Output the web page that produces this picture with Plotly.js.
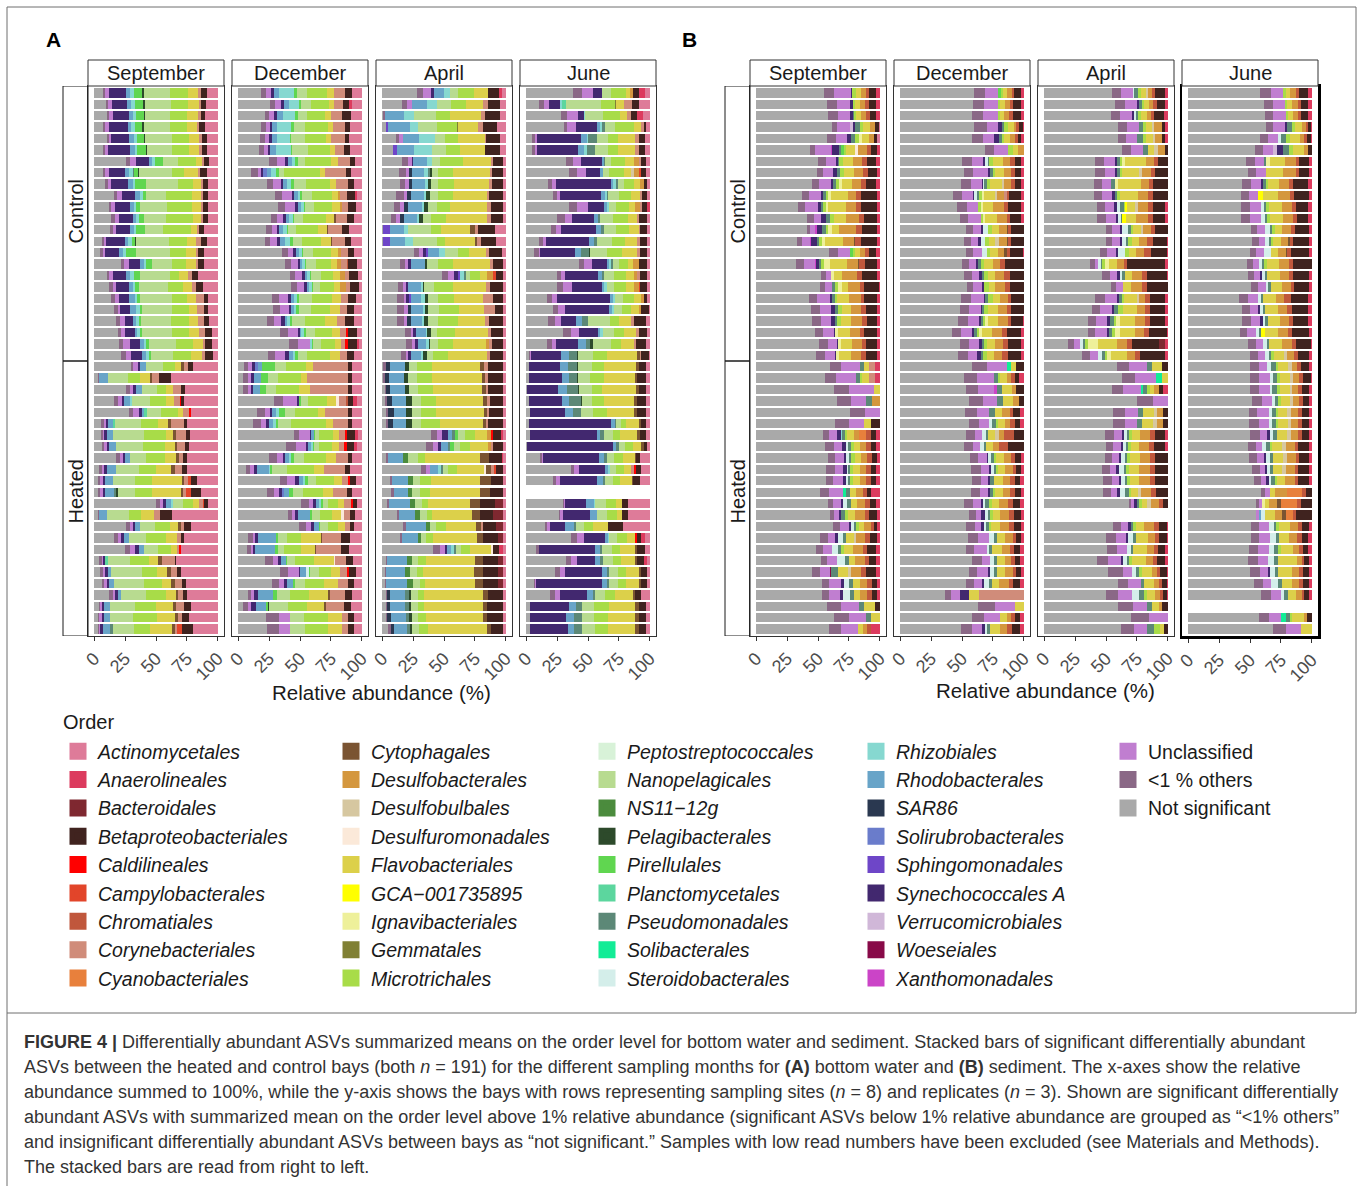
<!DOCTYPE html>
<html><head><meta charset="utf-8">
<script src="https://cdn.plot.ly/plotly-3.0.1.min.js"></script>
<style>html,body{margin:0;padding:0;background:#fff}#chart{width:1357px;height:1186px}</style>
</head><body><div id="chart"></div>
<script>
// ---------------- categories (legend order, column by column) ----------------
const ORDER_CODES = ["AC","AN","BA","BE","CL","CA","CH","CO","CN",
  "CY","DS","DB","DU","FL","GC","IG","GE","MI",
  "PP","NA","NSg","PE","PI","PL","PS","SB","ST",
  "RZ","RB","SA","SO","SP","SY","VE","WO","XA",
  "UN","OT","NS"];
const ORDER_NAMES = ["Actinomycetales","Anaerolineales","Bacteroidales","Betaproteobacteriales","Caldilineales","Campylobacterales","Chromatiales","Corynebacteriales","Cyanobacteriales",
  "Cytophagales","Desulfobacterales","Desulfobulbales","Desulfuromonadales","Flavobacteriales","GCA−001735895","Ignavibacteriales","Gemmatales","Microtrichales",
  "Peptostreptococcales","Nanopelagicales","NS11−12g","Pelagibacterales","Pirellulales","Planctomycetales","Pseudomonadales","Solibacterales","Steroidobacterales",
  "Rhizobiales","Rhodobacterales","SAR86","Solirubrobacterales","Sphingomonadales","Synechococcales A","Verrucomicrobiales","Woeseiales","Xanthomonadales",
  "Unclassified","&lt;1 % others","Not significant"];
const ORDER_COLORS = ["#de7b99","#dc3b5e","#7f2830","#40231f","#ff0000","#e2452a","#c0573c","#d08c7a","#e8803c",
  "#7a5432","#d4973e","#d6c7a0","#fbe9d9","#dcd04a","#ffff00","#eef09a","#808034","#a8dc48",
  "#d8f2d8","#b8db90","#4b8b3d","#2d4a2b","#60d650","#5cd69e","#5c8877","#12ec96","#d4eeea",
  "#86d8d0","#68a4c8","#2a3850","#6a7ccb","#6e46c8","#42286f","#d0b7d8","#880a48","#cb44c7",
  "#c07ed0","#8a6886","#a9a9a9"];
const ORDER_ITALIC = ORDER_CODES.map(c => !["UN","OT","NS"].includes(c));
const LEGEND_COLUMN = [1,1,1,1,1,1,1,1,1, 2,2,2,2,2,2,2,2,2, 3,3,3,3,3,3,3,3,3, 4,4,4,4,4,4,4,4,4, 5,5,5];

const MONTHS = ["September","December","April","June"];
const GROUPS = ["Control","Heated"];
const TICK_VALUES = [0,25,50,75,100];
const TICK_LABELS = ["0","25","50","75","100"];

// ---------------- per-facet rows: 24 control + 24 heated (null = excluded sample) ----------------
const A_SEP = [
{NS:7,OT:2,UN:3,SY:14,RB:3,RZ:3,PI:7,PE:1,NA:21,MI:15,FL:8,CO:2,BE:5,AC:9},
{NS:9,OT:2,UN:3,SY:12,RB:3,RZ:3,PI:7,PE:1,NA:21,MI:13,FL:9,CO:2,BE:4,AC:9},
{NS:10,OT:2,UN:3,SY:13,RB:3,RZ:3,PI:6,PE:1,NA:20,MI:14,FL:9,CO:2,BE:4,AC:10},
{NS:7,OT:2,UN:3,SY:15,RB:3,RZ:3,PI:6,PE:1,NA:21,MI:14,FL:8,CO:2,BE:5,AC:10},
{NS:10,OT:2,UN:2,SY:14,RB:4,RZ:3,PI:5,PE:1,NA:22,MI:14,FL:8,CO:2,BE:4,AC:9},
{NS:7,OT:2,UN:2,SY:18,RB:4,RZ:2,PI:7,PE:1,NA:20,MI:14,FL:8,CO:2,BE:4,AC:9},
{NS:26,OT:3,UN:5,SY:10,RB:3,RZ:2,PI:7,NA:12,MI:14,FL:5,CO:2,BE:4,AC:7},
{NS:7,OT:2,UN:3,SY:13,RB:3,RZ:3,PS:1,PI:3,PE:1,NA:26,MI:10,FL:11,CO:2,BE:5,AC:9},
{NS:9,OT:2,UN:3,SY:13,RB:4,RZ:2,PI:9,NA:26,MI:12,FL:6,CO:2,BE:4,AC:8},
{NS:16,OT:3,UN:4,SY:11,RB:4,RZ:2,PI:3,NA:16,MI:22,FL:7,CO:2,BE:4,AC:8},
{NS:12,OT:2,UN:3,SY:12,RB:3,RZ:2,PI:3,NA:22,MI:20,FL:7,CO:2,BE:4,AC:8},
{NS:14,OT:3,UN:3,SY:11,RB:3,RZ:2,PI:4,NA:18,MI:22,FL:6,CO:2,BE:4,AC:8},
{NS:13,OT:2,UN:3,SY:11,RB:3,RZ:2,PI:7,NA:15,MI:22,FL:5,CO:2,BE:4,AC:11},
{NS:6,OT:2,UN:2,SY:15,RB:3,RZ:3,PI:2,PE:1,NA:27,MI:15,FL:7,CO:4,BE:5,AC:9},
{NS:5,OT:2,UN:2,SY:11,RB:3,RZ:3,PI:8,NA:27,MI:13,FL:8,CO:2,BE:5,AC:11},
{NS:22,OT:2,UN:4,SY:9,RB:3,RZ:2,PI:5,NA:16,MI:11,FL:8,CO:2,BE:5,AC:11},
{NS:10,OT:2,UN:3,SY:11,RB:3,RZ:3,PI:5,NA:24,MI:8,FL:7,CO:3,BE:5,AC:16},
{NS:12,OT:3,UN:3,SY:10,RB:3,RZ:2,PI:3,NA:24,MI:12,FL:7,CO:3,BE:6,AC:12},
{NS:14,OT:3,UN:3,SY:8,RB:5,RZ:2,PI:2,NA:26,MI:12,FL:7,CO:7,BE:3,AC:8},
{NS:16,OT:3,UN:2,SY:8,RB:5,RZ:3,PI:2,NA:24,MI:14,FL:6,CO:6,BE:3,AC:8},
{NS:18,OT:3,UN:4,SY:6,RB:3,RZ:2,PI:2,NA:24,MI:15,FL:7,CO:5,BE:4,AC:7},
{NS:19,OT:3,UN:3,SY:8,RB:2,RZ:2,PI:2,NA:24,MI:14,FL:8,CO:5,BE:5,AC:5},
{NS:20,OT:3,UN:6,SY:8,RB:3,RZ:2,PI:2,NA:22,MI:14,FL:8,CO:2,BE:5,AC:5},
{NS:22,OT:4,UN:4,SY:9,RB:3,RZ:2,PI:2,NA:18,MI:14,FL:9,CO:3,BE:6,AC:4},
{NS:28,OT:2,UN:4,SY:1,RB:5,NA:13,MI:9,FL:5,CY:2,CO:3,BE:4,AC:19},
{NS:3,OT:1,RB:7,NA:16,MI:9,FL:8,CY:2,CO:5,BE:10,AC:37},
{NS:26,OT:3,UN:3,SY:2,RB:5,NA:12,MI:8,FL:5,CO:7,BE:3,AC:27},
{NS:16,OT:3,UN:3,SY:2,RB:4,RZ:2,NA:14,MI:13,FL:6,CO:5,BE:2,CL:1,AC:27},
{NS:27,OT:3,UN:5,SY:2,RB:2,PL:2,NA:11,MI:13,FL:4,CO:5,CL:1,AC:21},
{NS:6,OT:2,UN:2,SY:2,RB:4,PL:2,NA:22,MI:14,FL:9,CY:2,CO:11,BE:3,AC:26},
{NS:5,OT:2,UN:1,SY:2,RB:5,NA:24,MI:17,FL:6,CY:2,CO:8,BE:3,AC:22},
{NS:6,OT:2,UN:2,SY:2,RB:5,NA:22,MI:17,FL:8,CY:2,CO:6,BE:3,AC:23},
{NS:18,OT:3,UN:2,SY:2,RB:4,NA:13,MI:15,FL:9,CY:3,CO:3,BE:3,AC:25},
{NS:4,OT:2,UN:2,SY:2,RB:8,NA:18,MI:14,FL:12,CY:3,CO:6,BE:4,AC:25},
{NS:3,OT:2,UN:2,SY:2,RB:6,NA:18,MI:14,FL:24,CY:2,CO:3,CA:2,BE:5,AC:17},
{NS:3,OT:2,UN:2,SY:2,RB:7,PS:2,PE:1,NA:14,MI:14,FL:23,CY:2,CO:2,CA:4,BE:8,AC:14},
{NS:50,OT:3,UN:3,SY:2,RB:4,RZ:2,NA:8,MI:8,FL:5,CO:3,CA:1,BE:3,AC:8},
{NS:3,OT:1,RB:6,NA:18,MI:10,FL:10,CO:5,BE:10,AC:37},
{NS:26,OT:3,UN:2,SY:2,RB:4,NA:12,MI:12,FL:7,CY:2,CO:3,BE:5,AC:22},
{NS:16,OT:3,UN:3,SY:2,RB:4,NA:14,MI:16,FL:9,CO:3,BE:3,AC:27},
{NS:25,OT:4,UN:4,SY:3,RB:4,NA:12,MI:10,FL:5,CO:2,CL:1,AC:30},
{NS:4,OT:2,UN:1,SY:2,PL:2,NA:18,MI:15,FL:8,CY:3,CO:10,BE:1,AC:34},
{NS:5,OT:2,UN:2,SY:2,RB:3,NA:25,MI:12,FL:8,CY:3,CO:5,BE:3,AC:30},
{NS:6,OT:2,UN:2,SY:2,RB:4,NA:24,MI:15,FL:7,CY:3,CO:6,BE:3,AC:26},
{NS:12,OT:3,UN:2,SY:2,RB:3,NA:20,MI:16,FL:8,CY:2,CO:4,BE:3,AC:25},
{NS:4,OT:1,UN:1,SY:2,RB:5,NA:20,MI:17,FL:14,CY:2,CO:7,BE:5,AC:22},
{NS:3,OT:1,UN:2,SY:2,RB:5,NA:18,MI:20,FL:14,CY:3,CO:3,BE:6,AC:23},
{NS:3,OT:1,UN:1,SY:2,RB:6,PS:2,NA:17,MI:13,FL:18,CY:2,CO:2,CA:4,BE:9,AC:20}
];
const A_DEC = [
{NS:18,OT:4,UN:4,SY:2,RB:4,RZ:12,PI:2,NA:8,MI:16,FL:5,CO:9,BE:5,AC:8},
{NS:25,OT:4,UN:5,SY:2,RB:4,RZ:8,PI:2,NA:8,MI:14,FL:4,CO:7,BE:5,AN:2,AC:8},
{NS:22,OT:3,UN:4,SY:2,RB:5,RZ:10,PI:2,NA:8,MI:14,FL:5,CO:9,BE:7,AC:9},
{NS:18,OT:4,UN:3,SY:2,RB:4,RZ:11,PI:2,NA:9,MI:18,FL:4,CO:10,BE:4,AC:9},
{NS:18,OT:4,UN:3,SY:2,RB:4,RZ:11,PI:1,NA:11,MI:17,FL:4,CO:11,BE:4,AC:10},
{NS:16,OT:4,UN:3,SY:2,RB:4,RZ:12,PI:1,NA:12,MI:17,FL:4,CO:7,BE:5,AC:9},
{NS:24,OT:6,UN:6,SY:2,RB:3,RZ:3,PI:2,NA:5,MI:20,FL:6,CO:9,BE:4,AC:5},
{NS:10,OT:5,UN:2,SY:2,SO:3,RB:3,RZ:4,PI:2,NA:4,MI:27,FL:4,CO:16,BE:4,AC:8},
{NS:22,OT:5,UN:6,SY:2,RB:3,RZ:3,PI:2,NA:10,MI:18,FL:5,CO:9,BE:5,AC:6},
{NS:30,OT:6,UN:8,SY:2,RB:3,RZ:2,PI:2,NA:8,MI:16,FL:5,DS:2,CO:6,BE:6,AN:2,AC:4},
{NS:32,OT:6,UN:8,SY:2,RB:3,RZ:2,PI:1,NA:7,MI:15,FL:6,DS:2,CO:5,BE:6,AC:5},
{NS:26,OT:5,UN:5,SY:2,RB:3,RZ:3,PI:1,NA:7,MI:18,FL:7,CY:1,CO:9,BE:6,AC:6},
{NS:22,OT:5,UN:4,SY:2,RB:3,RZ:3,PI:1,NA:6,MI:18,FL:7,CY:1,CO:11,BE:6,AC:10},
{NS:22,OT:4,UN:5,SY:3,RB:4,RZ:4,PI:2,NA:8,MI:15,FL:8,CY:1,CO:10,BE:5,AC:9},
{NS:35,OT:5,UN:4,SY:2,RB:3,RZ:2,PI:1,NA:8,MI:14,FL:6,DS:2,CO:6,BE:5,AC:6},
{NS:38,OT:5,UN:5,SY:2,RB:2,RZ:2,PI:1,NA:8,MI:12,FL:5,DS:3,CO:5,CH:1,BE:7,AC:4},
{NS:42,OT:4,UN:6,SY:2,RB:2,RZ:2,PI:1,NA:8,MI:10,FL:5,DS:4,CO:4,BE:7,AC:3},
{NS:43,OT:5,UN:6,SY:2,RB:2,RZ:2,PI:1,NA:6,MI:11,FL:5,DS:5,CO:3,BE:8,AC:2},
{NS:27,OT:6,UN:7,SY:2,RB:3,RZ:2,PI:2,NA:10,MI:16,FL:7,CO:6,BE:6,AC:5},
{NS:28,OT:6,UN:7,SY:2,RB:2,RZ:2,PI:2,NA:10,MI:15,FL:8,CO:6,BE:6,AC:6},
{NS:23,OT:5,UN:6,SY:3,RB:2,RZ:2,PI:2,NA:10,MI:16,FL:9,CO:7,BE:7,AC:6},
{NS:34,OT:6,UN:8,SY:2,RB:1,RZ:2,PI:2,NA:7,MI:14,FL:6,CO:5,CL:2,BE:7,AC:4},
{NS:42,OT:7,UN:10,RZ:2,PI:1,NA:6,MI:12,FL:5,CO:3,CL:3,BE:7,AN:2,AC:2},
{NS:24,OT:6,UN:8,SY:3,RB:3,RZ:2,PI:2,NA:8,MI:18,FL:8,CO:6,BE:6,AC:6},
{NS:5,OT:3,UN:3,SY:2,SO:3,RB:3,PI:10,NA:9,MI:16,FL:5,CO:28,BE:3,AC:8},
{NS:4,OT:4,UN:2,SY:3,RB:5,PI:6,NA:8,MI:18,FL:5,CO:33,BE:3,AC:8},
{NS:4,OT:4,UN:2,SY:2,RB:5,PI:5,NA:8,MI:18,FL:8,CO:30,BE:3,AC:8},
{NS:28,OT:7,UN:11,SY:1,PI:2,NA:5,MI:15,FL:7,DU:2,CO:6,CH:1,BE:4,AN:3,AC:4},
{NS:15,OT:6,UN:4,SY:2,RB:3,RZ:2,PI:5,NA:8,MI:18,FL:6,CO:18,BE:3,AC:8},
{NS:12,OT:6,UN:4,SY:3,RB:3,RZ:2,PI:2,NA:10,MI:28,FL:6,CO:12,BE:3,AC:8},
{NS:42,OT:4,UN:8,SY:1,RB:2,PI:1,NA:3,MI:10,FL:5,CO:4,CL:2,BE:6,AN:2,AC:3},
{NS:38,OT:8,UN:8,SY:1,RB:3,RZ:1,PI:1,NA:4,MI:10,FL:6,CO:4,CL:2,BE:6,AN:2,AC:4},
{NS:25,OT:6,UN:5,SY:2,RB:3,RZ:2,PI:2,NA:8,MI:18,FL:8,CO:10,BE:3,AC:8},
{NS:6,OT:4,UN:3,SY:2,RB:10,RZ:1,PI:2,NA:12,MI:22,FL:8,CO:17,BE:4,AC:10},
{NS:33,OT:6,UN:6,SY:3,RB:3,RZ:2,PI:2,NA:7,MI:14,FL:6,CO:5,CL:2,BE:4,AC:5},
{NS:23,OT:6,UN:4,SY:2,SO:2,RB:4,PI:3,NA:8,MI:16,FL:8,CO:11,BE:4,AC:8},
{NS:50,OT:7,UN:3,SY:2,RB:3,RZ:1,PI:2,NA:4,MI:8,FL:5,CO:5,CL:2,BE:3,AC:4},
{NS:38,OT:3,UN:3,SY:2,RB:9,PI:2,NA:6,MI:9,FL:7,DU:2,CO:5,BE:4,AC:5},
{NS:48,OT:6,UN:4,SY:2,RB:4,PI:1,NA:6,MI:8,FL:6,CO:4,BE:3,AC:6},
{NS:8,OT:4,UN:2,SY:2,RB:15,PI:2,NA:7,MI:12,FL:16,CY:1,CO:16,BE:7,AC:10},
{NS:7,OT:3,UN:2,SY:2,RB:16,PI:2,NA:5,MI:14,FL:11,CY:1,CO:20,BE:7,AC:10},
{NS:20,OT:6,UN:4,SY:2,RB:4,PI:1,NA:6,MI:14,FL:15,DU:1,CO:8,BE:5,AC:7},
{NS:34,OT:6,UN:9,SY:1,ST:2,RB:5,PI:1,NA:7,MI:10,FL:7,CO:6,CL:2,BE:5,AC:5},
{NS:25,OT:5,UN:4,SY:2,RB:5,PI:1,NA:8,MI:14,FL:10,CO:8,BE:4,AC:6},
{NS:8,OT:2,UN:2,SY:3,RB:12,PI:3,NA:10,MI:15,FL:15,CY:1,CO:12,BE:5,AC:8},
{NS:4,OT:4,UN:2,SY:4,RB:8,PE:1,PI:2,NA:15,MI:15,FL:14,CY:1,CO:15,BE:5,AC:9},
{NS:23,OT:10,UN:9,NA:12,MI:19,FL:12,CO:5,BE:5,AC:6},
{NS:23,OT:10,UN:9,NA:12,MI:19,FL:11,CO:5,BE:5,AC:6}
];
const A_APR = [
{NS:27,OT:5,UN:6,SY:2,RB:8,RZ:5,NA:6,MI:12,FL:11,BE:9,AN:2,AC:3},
{NS:16,OT:4,UN:4,RB:12,RZ:8,NA:11,MI:12,FL:14,CO:4,BE:9,AC:5},
{NS:1,OT:1,RB:16,RZ:8,NA:18,MI:11,FL:26,CO:3,BE:12,AC:5},
{NS:3,SP:2,RB:17,RZ:7,NA:15,MI:16,GE:1,FL:16,CO:4,BE:11,AC:7},
{NS:11,OT:3,UN:3,RB:13,RZ:13,NA:8,MI:10,FL:22,CO:1,BE:11,AC:5},
{NS:9,SP:3,RB:14,RZ:14,NA:12,MI:11,FL:20,BE:12,AC:5},
{NS:16,OT:5,UN:3,SY:1,RB:11,RZ:4,NA:7,MI:18,FL:23,CO:2,BE:8,AC:2},
{NS:14,OT:5,UN:3,SA:2,RB:10,RZ:3,PS:2,PE:1,NA:5,MI:12,FL:30,CO:2,BE:9,AC:2},
{NS:14,OT:4,UN:3,SA:3,RB:10,RZ:2,PE:3,NA:5,MI:13,FL:28,CO:2,BE:9,AC:2},
{NS:11,OT:6,UN:3,SA:3,RB:10,RZ:2,PE:3,NA:6,MI:12,FL:27,CO:2,BE:11,AC:2},
{NS:9,OT:5,UN:3,SA:3,RB:11,RZ:2,PE:3,NA:7,MI:10,FL:29,CO:3,BE:10,AC:2},
{NS:7,OT:4,UN:3,SA:3,RB:10,RZ:2,PE:3,NA:6,MI:12,FL:32,CO:3,BE:10,AC:2},
{NS:1,SP:5,RB:12,RZ:3,NA:19,MI:8,FL:24,CY:4,CO:2,BE:14,AC:9},
{NS:1,SP:5,RB:12,RZ:7,NA:19,MI:6,FL:24,CY:2,CO:3,BE:12,AC:8},
{NS:24,OT:4,UN:3,SP:2,SY:2,RB:8,RZ:5,NA:10,MI:8,FL:13,CO:2,BE:10,AC:3},
{NS:14,OT:4,UN:2,SY:2,RB:11,PE:2,NA:8,MI:12,FL:29,CO:2,BE:8,AC:2},
{NS:48,OT:5,UN:5,SY:3,SP:2,RZ:3,PS:2,NA:3,MI:8,FL:6,DS:5,CA:2,BE:6,AC:2},
{NS:13,OT:4,UN:2,SY:2,RB:10,RZ:2,PE:1,NA:8,MI:15,FL:27,CO:3,BE:11,AC:2},
{NS:12,OT:5,UN:2,SY:2,SP:2,RB:8,RZ:3,PE:2,NA:8,MI:13,FL:23,CO:8,BE:8,AC:2},
{NS:12,OT:6,UN:3,SA:2,RB:10,RZ:2,PE:2,NA:9,MI:16,FL:20,CO:9,BE:7,AC:2},
{NS:12,OT:6,UN:2,SA:3,RB:9,RZ:2,PE:3,NA:8,MI:16,FL:22,CO:3,BE:12,AC:2},
{NS:18,OT:5,UN:2,SY:2,RB:8,RZ:1,PE:3,NA:5,MI:14,FL:27,CO:2,BE:10,AC:2},
{NS:19,OT:5,UN:2,SY:2,RB:7,RZ:2,PE:1,NA:6,MI:12,FL:26,DS:3,CO:2,BE:9,AC:2},
{NS:15,OT:4,UN:2,SY:2,RB:8,RZ:2,PE:3,NA:5,MI:12,FL:31,CO:2,BE:11,AC:2},
{NS:1,OT:2,SA:3,RB:12,PE:3,NA:6,MI:12,FL:38,CY:3,CO:3,BE:12,AC:2},
{NS:1,OT:1,SA:3,RB:12,PE:3,NA:7,MI:12,FL:39,CY:3,CO:2,BE:12,AC:2},
{NS:2,OT:1,SA:3,RB:12,PE:3,NA:7,MI:12,FL:39,CY:3,CO:2,BE:12,AC:2},
{NS:2,OT:2,SA:4,RB:11,PE:5,NA:7,MI:12,FL:38,CY:3,CO:2,BE:11,AC:2},
{NS:3,OT:2,SA:4,RB:10,PE:5,NA:7,MI:12,FL:38,CY:2,CO:2,BE:11,AC:2},
{NS:3,OT:2,SA:4,RB:10,PE:5,NA:7,MI:15,FL:35,CY:2,CO:2,BE:12,AC:2},
{NS:39,OT:5,UN:4,SY:5,RB:3,PS:2,PI:3,NA:5,MI:8,FL:10,DS:3,CL:2,BE:6,AN:2,AC:2},
{NS:35,OT:5,UN:4,SY:3,RB:5,PS:2,PI:3,NA:5,MI:8,FL:14,DS:2,CO:2,BE:8,AC:2},
{NS:3,OT:2,RB:12,NSg:4,NA:8,MI:6,FL:44,CY:7,BE:11,AN:1,AC:2},
{NS:32,OT:4,UN:3,RB:7,RZ:2,PS:2,NA:4,MI:7,FL:22,DU:2,CY:4,CO:2,CA:2,BE:6,AC:2},
{NS:6,OT:2,RB:12,NSg:4,NA:6,MI:8,FL:39,CY:8,BE:10,AC:2},
{NS:7,OT:2,RB:11,NSg:3,NA:6,MI:8,FL:38,CY:8,BE:10,AC:2},
{NS:4,OT:1,RB:16,NSg:4,NA:5,MI:5,FL:32,CY:7,BE:12,BA:6,AC:2},
{NS:11,OT:2,RB:12,NSg:4,NA:5,MI:4,FL:30,CY:6,BE:10,BA:8,AC:2},
{NS:17,OT:2,RB:16,NSg:3,NA:5,MI:8,FL:24,CY:4,CO:2,BE:10,BA:6,AC:2},
{NS:14,OT:2,RB:12,NSg:3,NA:4,MI:5,FL:35,CY:5,BE:12,BA:4,AC:2},
{NS:40,OT:5,UN:4,SY:2,RB:3,RZ:2,PS:2,NA:4,MI:7,FL:16,DU:2,BE:5,AN:3,AC:2},
{NS:3,OT:1,RB:15,NSg:4,NA:5,MI:6,FL:38,CY:6,BE:12,BA:4,AC:2},
{NS:2,OT:1,RB:15,NSg:4,NA:5,MI:5,FL:40,CY:7,BE:12,BA:4,AC:2},
{NS:2,OT:1,RB:16,NSg:5,NA:5,MI:4,FL:39,CY:6,BE:12,BA:4,AC:2},
{NS:3,OT:1,SA:2,RB:12,PS:3,PE:2,NA:5,MI:5,FL:47,CY:4,BE:12,AC:2},
{NS:3,OT:1,SA:2,RB:12,PS:3,PE:2,NA:5,MI:5,FL:47,CY:3,BE:13,AC:2},
{NS:3,OT:1,SA:3,RB:12,PS:2,PE:2,NA:5,MI:6,FL:45,CY:3,BE:13,AC:2},
{NS:5,OT:2,SA:2,RB:11,PS:2,PE:2,NA:5,MI:7,FL:47,CY:3,BE:10,AC:2}
];
const A_JUN = [
{NS:38,OT:7,UN:9,SY:7,NA:8,MI:12,FL:3,DS:2,BE:5,AN:5,AC:4},
{NS:10,OT:4,UN:4,SY:9,RZ:2,PL:3,NA:28,MI:11,GE:1,FL:6,CO:7,BE:5,AC:9},
{NS:27,OT:5,UN:8,SY:5,RZ:1,NA:14,MI:13,FL:5,CO:3,BE:5,AN:5,AC:5},
{NS:30,OT:3,UN:7,SY:17,RB:2,RZ:2,PS:2,NA:8,MI:15,FL:6,CO:2,BE:2,AC:3},
{NS:5,OT:2,UN:2,SY:35,RB:5,RZ:1,PS:7,NA:9,MI:8,FL:14,CO:3,BE:5,AC:4},
{NS:5,OT:2,UN:2,SY:33,RB:5,RZ:2,PS:7,NA:10,MI:8,FL:14,CO:3,BE:5,AC:4},
{NS:32,OT:6,UN:6,SY:17,RB:2,PS:1,NA:5,MI:11,FL:7,DS:4,CO:2,BE:4,AC:3},
{NS:35,OT:6,UN:7,SY:12,RB:2,NA:5,MI:12,FL:6,DB:2,DS:4,CA:2,BE:4,AC:3},
{NS:18,OT:3,UN:3,SY:45,RB:2,RZ:2,PS:2,NA:5,MI:8,FL:5,DS:3,BE:3,AC:2},
{NS:22,OT:3,UN:3,SY:33,RB:3,RZ:2,PS:1,NA:9,MI:10,FL:7,CO:2,BE:4,AC:2},
{NS:35,OT:6,UN:9,SY:13,RB:2,RZ:2,NA:6,MI:10,FL:5,DS:4,CO:2,BE:4,AN:2},
{NS:25,OT:6,UN:6,SY:18,RB:3,PS:2,NA:10,MI:12,FL:8,CO:1,BE:7,AC:2},
{NS:20,OT:4,UN:4,SY:28,RB:4,PS:2,NA:10,MI:10,FL:8,CO:1,BE:6,AC:2},
{NS:10,OT:3,UN:3,SY:34,RB:4,PS:2,NA:12,MI:10,FL:10,CO:2,BE:6,AC:2},
{NS:6,OT:4,UN:1,SY:28,RB:5,PS:6,PE:1,NA:14,MI:12,FL:12,CO:2,BE:6,AC:2},
{NS:43,OT:4,UN:6,SY:12,RB:2,RZ:2,PS:1,NA:5,MI:7,FL:4,DS:5,BE:7,AC:2},
{NS:25,OT:3,UN:3,SY:27,RB:3,PS:2,NA:8,MI:10,FL:6,DS:3,CO:2,BE:6,AC:2},
{NS:25,OT:5,UN:7,SY:24,RB:2,RZ:2,NA:6,MI:10,FL:6,DS:4,CA:1,BE:6,AC:2},
{NS:17,OT:4,UN:4,SY:43,RB:2,RZ:2,NA:6,MI:9,FL:6,DS:2,BE:3,AC:2},
{NS:22,OT:4,UN:6,SY:36,RB:2,RZ:2,NA:6,MI:8,FL:6,DS:2,BE:6,AC:1},
{NS:18,OT:5,UN:5,SY:12,RB:5,PS:5,NA:18,MI:7,FL:10,CO:2,BE:10,AC:3},
{NS:30,OT:6,UN:7,SY:15,RB:2,RZ:2,NA:9,MI:8,FL:10,CO:2,BE:7,AC:2},
{NS:17,OT:4,UN:3,SY:18,RB:6,PS:4,PE:2,NA:15,MI:8,FL:10,CO:2,BE:8,AC:3},
{NS:2,OT:1,UN:1,SY:24,RB:7,PS:6,PE:1,NA:12,MI:11,FL:25,CY:2,CO:1,BE:6,AC:1},
{NS:2,SY:25,RB:7,PS:7,PE:1,NA:11,MI:10,FL:26,CY:2,BE:6,AC:3},
{NS:2,SY:27,RB:6,PS:6,PE:1,NA:10,MI:11,FL:25,CY:2,BE:7,AC:3},
{NS:1,SY:25,RB:7,PS:9,PE:1,NA:10,MI:8,FL:28,CY:2,BE:6,AC:3},
{NS:2,SY:27,RB:6,PS:9,PE:1,NA:8,MI:10,FL:24,CY:3,BE:7,AC:3},
{NS:3,SY:28,RB:7,PS:6,NA:10,MI:11,FL:22,CY:3,BE:7,AC:3},
{NS:2,SY:67,RB:3,PS:1,NA:4,MI:4,FL:10,CY:2,BE:4,AC:3},
{NS:3,SY:54,RB:3,PS:3,NA:7,MI:6,FL:14,CY:2,BE:5,AC:3},
{NS:1,SY:69,RB:3,PS:2,NA:5,MI:6,FL:7,CY:2,BE:3,AC:2},
{NS:11,OT:2,UN:1,SY:45,RB:4,PS:2,NA:6,MI:7,FL:10,CY:1,BE:3,AC:8},
{NS:36,OT:3,UN:4,SY:21,RB:2,RZ:2,NA:5,MI:6,FL:6,CO:2,CL:2,BE:4,AC:7},
{NS:22,OT:3,UN:3,SY:31,RB:5,PS:2,NA:6,MI:6,FL:10,CY:1,BE:6,AC:8},
null,
{NS:30,OT:1,UN:1,SY:17,RB:6,RZ:1,NA:9,MI:8,FL:5,BE:5,AC:18},
{NS:27,OT:1,UN:2,SY:22,RB:6,NA:8,MI:8,FL:4,BE:5,AC:18},
{NS:15,OT:2,UN:2,SY:12,RB:8,PS:1,NA:7,MI:7,FL:12,BE:12,AC:22},
{NS:35,OT:5,UN:5,SY:17,RB:2,RZ:1,NA:6,MI:8,FL:6,CL:2,BE:3,AN:3,AC:4},
{NS:8,OT:2,SY:45,RB:4,PS:2,NA:8,MI:6,FL:12,CY:2,BE:6,AC:4},
{NS:32,OT:4,UN:5,SY:15,RB:4,PS:2,NA:8,MI:7,FL:11,CY:2,BE:5,AN:3,AC:2},
{NS:23,OT:4,UN:4,SY:30,RB:4,PS:2,NA:7,MI:7,FL:10,CY:2,BE:5,AC:2},
{NS:6,OT:1,UN:1,SY:53,RB:4,PS:2,NA:7,MI:7,FL:10,CY:2,BE:5,AC:2},
{NS:19,OT:4,UN:4,SY:22,RB:5,PS:2,NA:8,MI:8,FL:14,CY:2,BE:5,AC:7},
{NS:3,SY:32,RB:5,PS:5,NA:10,MI:12,FL:21,CY:3,BE:6,AC:3},
{NS:3,SY:29,RB:7,PS:6,NA:10,MI:11,FL:22,CY:3,BE:6,AC:3},
{NS:3,SY:31,RB:5,PS:6,NA:11,MI:10,FL:22,CY:3,BE:6,AC:3}
];
const B_SEP = [
{NS:54,OT:8,UN:14,SY:1,MI:3,FL:4,DS:4,CH:2,BE:6,AN:3},
{NS:57,OT:8,UN:11,SY:2,MI:2,FL:4,DS:4,CH:3,BE:6,AN:3},
{NS:58,OT:8,UN:10,SY:2,PS:1,MI:2,FL:4,DS:4,CH:3,BE:5,AN:3},
{NS:61,OT:4,UN:11,VE:2,SY:2,PS:4,MI:2,FL:6,DS:4,BE:3,AC:1},
{NS:57,OT:7,UN:9,SY:3,PS:3,MI:3,IG:3,FL:5,DS:4,BE:3,AC:2},
{NS:42,OT:4,UN:12,XA:1,SY:5,PS:2,PI:2,MI:2,FL:7,DU:2,DS:7,CH:3,BE:5,AN:2},
{NS:49,OT:6,UN:8,SY:2,PS:1,MI:3,FL:8,DS:7,CH:4,BE:7,AN:3},
{NS:47,OT:5,UN:8,SY:3,PS:2,MI:3,FL:8,DS:7,CH:4,BE:7,AN:2},
{NS:44,OT:6,UN:9,SY:2,PS:2,MI:3,IG:2,FL:8,DS:7,CH:4,BE:8,AN:3},
{NS:36,OT:6,UN:9,SY:2,PS:2,MI:2,IG:2,FL:14,DS:6,CH:4,BE:13,AN:2},
{NS:33,OT:6,UN:10,SY:2,PS:2,MI:2,IG:2,FL:14,DS:8,CH:4,BE:13,AN:2},
{NS:41,OT:5,UN:6,SY:4,PS:3,MI:3,FL:10,DS:10,CH:4,BE:11,AN:2},
{NS:40,OT:3,UN:4,XA:1,SY:4,PS:3,MI:2,IG:3,FL:6,DS:13,CH:5,BE:12,AN:2},
{NS:30,OT:3,UN:6,XA:1,SY:4,PS:2,MI:2,IG:2,FL:13,DS:8,CY:1,CH:4,BE:12,AN:2},
{NS:59,OT:7,UN:10,PI:2,MI:2,FL:4,DS:4,CH:3,BE:6,AN:3},
{NS:29,OT:6,UN:8,XA:1,SY:2,PS:2,MI:2,IG:4,FL:13,DS:8,CY:1,CH:4,BE:9,AN:2},
{NS:51,OT:4,UN:4,IG:3,FL:6,DS:12,CH:4,BE:12,AN:2},
{NS:52,OT:4,UN:6,PS:2,MI:3,IG:3,FL:5,DS:10,CH:3,BE:12,AN:1},
{NS:41,OT:6,UN:10,SY:2,PS:2,MI:2,FL:9,DS:9,CH:3,BE:10,AN:2},
{NS:43,OT:7,UN:9,SY:3,PS:2,MI:3,FL:7,DS:8,CH:4,BE:9,AN:2},
{NS:43,OT:7,UN:8,SY:3,PS:2,MI:3,FL:8,DS:8,CH:4,BE:8,AN:2},
{NS:45,OT:6,UN:8,SY:1,IG:2,FL:9,DS:8,CH:3,BE:10,AN:2},
{NS:48,OT:7,UN:7,SY:1,IG:2,FL:9,DS:7,CH:3,BE:9,AN:2},
{NS:48,OT:7,UN:8,SY:1,IG:2,FL:10,DS:8,CH:4,BE:9,AN:2},
{NS:59,OT:9,UN:15,PS:3,FL:4,CO:5,AN:4},
{NS:55,OT:9,UN:16,PS:3,MI:2,FL:5,CO:5,AN:4},
{NS:63,OT:12,UN:20,FL:5},
{NS:65,OT:12,UN:12,PS:5,DS:6},
{NS:76,OT:12,UN:12},
{NS:64,OT:11,UN:12,FL:6,BE:7},
{NS:51,OT:5,UN:6,SY:3,RZ:1,PS:2,MI:2,FL:5,DS:4,CN:5,CH:4,BE:4,AN:3},
{NS:57,OT:7,UN:7,SY:3,ST:2,PS:2,MI:3,FL:5,DS:5,CH:4,BE:4,AN:3},
{NS:58,OT:6,UN:7,SY:2,ST:2,PS:2,MI:3,FL:5,DS:5,CH:4,BE:4,AN:2},
{NS:57,OT:7,UN:7,SY:3,ST:1,PS:2,MI:2,FL:6,DS:5,CH:4,BE:4,AN:3},
{NS:57,OT:6,UN:8,SY:2,ST:2,PS:2,MI:2,FL:6,DS:5,CH:4,BE:4,AN:3},
{NS:52,OT:7,UN:11,SB:3,PS:3,FL:5,DS:5,CH:4,BE:3,AN:7},
{NS:57,OT:4,UN:6,SY:2,ST:3,PS:3,FL:5,DS:6,CH:4,BE:5,AN:3},
{NS:60,OT:3,UN:4,SY:2,PS:3,MI:2,FL:6,DS:8,CH:3,BE:7,AN:2},
{NS:62,OT:6,UN:7,SY:2,ST:2,PS:2,MI:2,FL:4,DS:6,CH:2,BE:3,AN:2},
{NS:52,OT:6,UN:6,SY:2,ST:4,PS:3,FL:6,DB:2,DS:7,CH:4,BE:6,AN:2},
{NS:48,OT:6,UN:7,ST:5,PS:3,MI:2,FL:7,DS:8,CH:4,BE:7,AN:3},
{NS:52,OT:5,UN:8,ST:6,PS:3,FL:5,DS:8,CH:3,BE:6,AN:3},
{NS:44,OT:6,UN:8,WO:1,PS:5,FL:8,DB:2,DS:8,CH:4,BE:8,AN:3},
{NS:53,OT:6,UN:10,SY:2,ST:4,PS:3,FL:6,DS:6,CH:4,BE:4,AN:2},
{NS:53,OT:6,UN:9,SY:2,ST:6,PS:3,FL:5,DS:6,CH:4,BE:4,AN:2},
{NS:57,OT:11,UN:14,PS:4,FL:9,BE:4},
{NS:62,OT:12,UN:14,PS:4,FL:7},
{NS:58,OT:9,UN:14,FL:4,DS:3,CH:3,AN:7}
];
const B_DEC = [
{NS:60,OT:9,UN:11,PI:2,MI:2,FL:3,DS:4,CH:2,BE:6,AN:2},
{NS:59,OT:9,UN:11,MI:2,FL:4,DS:4,CH:2,BE:7,AN:2},
{NS:58,OT:9,UN:12,MI:2,FL:3,DS:4,CH:3,BE:7,AN:2},
{NS:60,OT:10,UN:9,SY:3,PS:2,MI:3,FL:5,DS:2,CH:2,BE:3,AN:1},
{NS:58,OT:9,UN:9,SY:4,PS:2,MI:2,FL:5,DS:4,CH:2,BE:3,AN:2},
{NS:69,OT:7,UN:11,MI:4,FL:4,DS:5},
{NS:50,OT:8,UN:9,SY:2,ST:2,PS:1,MI:3,FL:8,DS:6,CH:4,BE:5,AN:2},
{NS:52,OT:7,UN:12,SY:2,PS:2,MI:2,FL:7,DS:6,CH:3,BE:5,AN:2},
{NS:49,OT:8,UN:9,SY:1,ST:1,PS:2,MI:3,FL:9,DB:2,DS:6,CH:3,BE:5,AN:2},
{NS:43,OT:7,UN:9,SY:1,ST:2,PS:2,MI:2,IG:2,FL:9,DB:1,DS:6,CO:2,CH:2,BE:10,AN:2},
{NS:46,OT:8,UN:9,MI:2,IG:2,FL:8,DS:9,CH:3,BE:11,AN:2},
{NS:48,OT:7,UN:10,MI:2,IG:2,FL:9,DS:8,CH:3,BE:9,AN:2},
{NS:53,OT:6,UN:6,SY:2,ST:4,MI:3,FL:6,DS:6,CY:1,CH:3,BE:10},
{NS:52,OT:5,UN:6,SY:2,ST:4,MI:3,FL:5,DB:3,DS:6,CY:1,CH:3,BE:10},
{NS:53,OT:6,UN:7,ST:4,MI:3,FL:6,DS:5,CY:2,CH:3,BE:10,AN:1},
{NS:50,OT:6,UN:5,SY:2,PS:2,MI:3,FL:7,DS:6,CH:4,BE:15},
{NS:52,OT:6,UN:6,SY:2,PS:2,MI:3,FL:6,DS:7,CH:5,BE:11},
{NS:54,OT:5,UN:7,SY:2,MI:4,FL:5,DS:8,CH:4,BE:11},
{NS:49,OT:8,UN:11,SY:1,PS:2,MI:4,FL:6,DS:6,CH:3,BE:10},
{NS:48,OT:8,UN:9,SY:1,PS:2,MI:3,FL:8,DS:7,CH:4,BE:10},
{NS:47,OT:8,UN:9,SY:1,PS:2,MI:2,IG:2,FL:8,DS:8,CH:3,BE:9,AN:1},
{NS:42,OT:7,UN:9,SY:2,PS:2,MI:2,IG:2,FL:8,DS:8,CH:4,BE:12,AN:2},
{NS:48,OT:8,UN:8,SY:2,PS:2,MI:2,FL:7,DS:6,CH:4,BE:11,AN:2},
{NS:47,OT:8,UN:7,SY:3,PS:2,MI:3,FL:6,DS:6,CH:5,BE:11,AN:2},
{NS:58,OT:12,UN:16,SB:4,FL:4,BE:6},
{NS:52,OT:10,UN:14,PS:3,MI:2,FL:5,DS:4,CH:3,BE:3,AN:4},
{NS:52,OT:10,UN:12,XA:3,PS:4,FL:8,DS:3,BE:6},
{NS:56,OT:11,UN:11,PS:5,FL:8,DS:5,BE:4},
{NS:50,OT:9,UN:9,PS:5,FL:5,DS:6,CH:3,BE:5,AN:3},
{NS:54,OT:8,UN:8,ST:2,PS:3,MI:2,FL:5,DS:4,CH:4,BE:4,AN:3},
{NS:52,OT:7,UN:6,ST:3,PS:2,FL:5,DB:3,DS:4,CH:8,BE:8},
{NS:51,OT:7,UN:6,ST:3,PS:2,FL:5,DS:5,CH:7,BE:13},
{NS:55,OT:7,UN:7,SY:1,ST:2,PS:2,MI:2,FL:6,DS:6,CH:3,BE:5,AN:2},
{NS:57,OT:8,UN:6,SY:2,ST:2,PS:2,MI:1,FL:6,DS:6,CH:3,BE:4,AN:2},
{NS:58,OT:7,UN:6,SY:2,PS:3,FL:7,DS:6,CH:4,BE:4,AN:3},
{NS:57,OT:7,UN:6,SY:2,PS:2,MI:2,FL:6,DS:6,CH:4,BE:5,AN:2},
{NS:52,OT:7,UN:6,SY:2,ST:2,PS:3,MI:2,FL:6,DS:7,CH:4,BE:6,AN:3},
{NS:55,OT:6,UN:4,SY:3,ST:2,PS:2,MI:2,FL:6,DS:7,CH:4,BE:6,AN:2},
{NS:53,OT:7,UN:5,SY:2,ST:2,PS:2,MI:2,FL:7,DS:7,CH:4,BE:6,AN:2},
{NS:55,OT:8,UN:9,ST:4,PS:2,FL:7,DS:6,CH:3,BE:4,AN:2},
{NS:53,OT:7,UN:10,ST:2,PS:2,FL:8,DS:7,CH:3,BE:5,AN:3},
{NS:58,OT:8,UN:7,ST:3,PS:2,FL:7,DS:5,CH:3,BE:4,AN:3},
{NS:56,OT:6,UN:9,SY:2,ST:3,PS:2,FL:7,DS:6,CH:3,BE:4,AN:2},
{NS:53,OT:7,UN:6,SY:2,ST:4,PS:2,FL:6,DS:8,CH:3,BE:6,AN:3},
{NS:36,OT:5,UN:7,SY:8,FL:8,CO:36},
{NS:63,OT:14,UN:16,FL:7},
{NS:58,OT:10,UN:13,FL:5,DS:4,CH:3,BE:4,AN:3},
{NS:47,OT:8,UN:8,SY:2,ST:2,PS:2,FL:8,DS:5,CH:4,BE:6,AN:3}
];
const B_APR = [
{NS:55,OT:7,UN:10,ST:1,PS:3,MI:2,FL:4,DB:2,DS:3,CH:3,BE:8,AN:2},
{NS:57,OT:8,UN:10,SY:2,PS:2,MI:2,FL:4,DS:3,CH:3,BE:7,AN:2},
{NS:54,OT:7,UN:10,SY:2,ST:1,PS:2,MI:2,FL:5,DS:3,CH:3,BE:8,AN:3},
{NS:60,OT:7,UN:10,PS:3,MI:2,FL:5,DB:2,DS:6,BE:3,AN:2},
{NS:60,OT:6,UN:9,PS:5,MI:2,FL:6,DB:2,DS:5,BE:3,AN:2},
{NS:63,OT:7,UN:10,PS:4,FL:5,DB:3,DS:6,BE:2},
{NS:41,OT:7,UN:9,SY:2,PS:2,MI:2,IG:2,FL:17,DS:7,CH:3,BE:8},
{NS:41,OT:8,UN:8,SY:2,PS:2,MI:2,FL:14,DB:2,DS:7,CH:4,BE:10},
{NS:40,OT:7,UN:7,PS:3,IG:3,FL:18,DS:7,CH:3,BE:12},
{NS:40,OT:7,UN:8,SY:2,PS:2,MI:2,FL:15,DS:8,CH:4,BE:12},
{NS:42,OT:7,UN:7,SY:2,ST:3,PS:3,MI:1,GC:1,FL:7,DB:2,DS:8,CH:4,BE:10,AN:2},
{NS:43,OT:7,UN:8,SY:2,ST:2,PS:1,GC:3,FL:8,DS:10,CH:4,BE:10,AN:2},
{NS:50,OT:5,UN:6,SY:2,ST:5,PS:2,MI:2,FL:6,DB:2,DS:6,CH:4,BE:10},
{NS:50,OT:5,UN:6,SY:2,ST:3,PS:2,MI:3,FL:6,DS:6,CH:5,BE:11,AN:1},
{NS:45,OT:6,UN:7,SY:2,ST:5,MI:4,FL:5,DS:7,CH:5,BE:13,AN:1},
{NS:36,OT:4,UN:3,ST:2,PS:1,MI:2,IG:3,FL:7,DS:5,CH:3,BE:30,AN:2},
{NS:47,OT:6,UN:6,SY:2,ST:2,PS:2,FL:6,DS:8,CH:4,BE:16,AN:1},
{NS:54,OT:4,UN:6,FL:6,DS:9,CH:4,BE:17},
{NS:41,OT:8,UN:9,SY:2,PS:2,MI:2,FL:10,DB:2,DS:5,CH:4,BE:12,AN:2},
{NS:38,OT:7,UN:9,SY:2,PS:3,MI:4,FL:11,DS:7,CH:4,BE:12,AN:2},
{NS:35,OT:6,UN:9,SY:2,PS:3,MI:2,IG:3,FL:12,DS:8,CH:4,BE:12,AN:2},
{NS:35,OT:6,UN:9,SY:2,PS:2,MI:3,IG:4,FL:12,DS:7,CH:4,BE:14,AN:1},
{NS:19,OT:5,UN:5,ST:2,PS:2,MI:2,IG:8,FL:15,DS:8,CH:4,BE:22,BA:5,AN:2},
{NS:30,OT:6,UN:7,ST:3,PS:2,MI:2,IG:3,FL:13,DS:6,CH:4,BE:20,AN:2},
{NS:58,OT:10,UN:14,PS:4,FL:8,BE:5},
{NS:62,OT:10,UN:17,SB:4,FL:5},
{NS:53,OT:8,UN:14,SB:2,PS:3,MI:2,FL:3,DS:4,BE:3,AN:4},
{NS:75,OT:13,UN:12},
{NS:55,OT:10,UN:10,PS:4,FL:9,DB:2,DS:5,BE:4},
{NS:56,OT:9,UN:10,PS:4,FL:9,DB:3,DS:5,BE:4},
{NS:49,OT:7,UN:6,SY:2,ST:2,PS:2,MI:2,FL:7,DS:8,CH:4,BE:8,AN:2},
{NS:50,OT:6,UN:6,SY:2,ST:2,PS:2,MI:2,FL:7,DS:8,CH:4,BE:9,AN:2},
{NS:48,OT:6,UN:5,SY:2,ST:3,PS:2,MI:2,FL:8,DS:8,CH:4,BE:10},
{NS:46,OT:6,UN:5,SY:2,ST:4,PS:2,MI:2,FL:8,DS:9,CH:4,BE:10},
{NS:47,OT:7,UN:5,SY:2,ST:3,PS:2,MI:2,FL:7,DS:9,CH:4,BE:10},
{NS:47,OT:6,UN:5,SY:2,ST:4,PS:3,MI:2,FL:5,DB:3,DS:8,CH:4,BE:9},
{NS:65,OT:2,UN:2,SY:2,PS:2,MI:2,FL:4,DB:3,DS:6,CH:3,BE:4},
null,
{NS:56,OT:6,UN:6,SY:2,PS:2,MI:2,FL:7,DS:8,CH:4,BE:6,AN:1},
{NS:50,OT:8,UN:8,SY:2,ST:4,PS:2,FL:10,DS:6,CH:3,BE:6,AN:1},
{NS:51,OT:8,UN:8,ST:3,PS:2,FL:11,DS:6,CH:3,BE:6,AN:2},
{NS:43,OT:9,UN:10,SY:2,ST:3,PS:2,MI:2,FL:11,DS:6,CH:3,BE:7,AN:2},
{NS:52,OT:12,UN:7,ST:3,PS:3,MI:2,FL:8,DS:4,CH:3,BE:5,AN:1},
{NS:60,OT:8,UN:10,PS:3,FL:8,DS:4,CH:2,BE:4,AN:1},
{NS:50,OT:10,UN:11,ST:6,PS:4,MI:2,FL:7,DS:4,CH:2,BE:3,AN:1},
{NS:60,OT:12,UN:11,PS:4,FL:6,DS:2,BE:5},
{NS:70,OT:15,UN:15},
{NS:62,OT:11,UN:10,PS:6,MI:5,FL:3,BE:3}
];
const B_JUN = [
{NS:58,OT:9,UN:10,MI:2,FL:3,DS:5,CH:3,BE:7,AN:3},
{NS:61,OT:8,UN:9,MI:2,FL:4,DS:5,CH:2,BE:6,AN:3},
{NS:62,OT:7,UN:10,MI:2,FL:4,DS:4,CH:2,BE:6,AN:3},
{NS:63,OT:6,UN:9,SY:2,PS:4,MI:2,FL:6,DS:3,CH:2,BE:2,AN:1},
{NS:56,OT:6,UN:8,ST:2,PS:4,MI:3,FL:8,DS:3,CH:2,BE:3,AN:1},
{NS:50,OT:6,UN:8,VE:3,SY:4,PS:5,MI:3,FL:8,DS:3,BE:3},
{NS:47,OT:7,UN:7,PS:2,IG:3,FL:12,DS:9,CH:3,BE:8,AN:2},
{NS:48,OT:7,UN:8,FL:14,DS:10,CH:3,BE:8,AN:2},
{NS:42,OT:7,UN:8,SY:2,PS:2,MI:2,FL:8,DS:8,CH:3,BE:12,AN:3},
{NS:41,OT:6,UN:7,GC:4,FL:12,DS:9,CH:3,BE:12,AN:2},
{NS:43,OT:7,UN:9,ST:2,PS:2,MI:2,FL:11,DS:8,CH:3,BE:10,AN:3},
{NS:43,OT:7,UN:9,ST:3,PS:2,MI:2,FL:11,DS:8,CH:3,BE:9,AN:3},
{NS:51,OT:5,UN:6,ST:4,PS:2,MI:2,FL:6,DS:7,CH:3,BE:12,AN:2},
{NS:52,OT:5,UN:5,ST:3,PS:2,MI:2,FL:6,DS:6,CY:1,CH:3,BE:13,AN:2},
{NS:50,OT:5,UN:6,ST:6,FL:6,DS:6,CY:1,CH:3,BE:15,AN:2},
{NS:47,OT:5,UN:5,ST:2,PS:2,MI:2,FL:10,DS:8,CH:3,BE:15},
{NS:47,OT:5,UN:4,SY:2,ST:2,PS:2,FL:10,DS:7,CH:3,BE:13,AN:2},
{NS:50,OT:6,UN:6,ST:2,PS:2,FL:9,DS:7,CH:3,BE:12,AN:2},
{NS:41,OT:7,UN:8,ST:2,PS:2,FL:10,DS:7,CH:5,BE:14,AN:3},
{NS:43,OT:6,UN:6,SY:2,ST:2,PS:2,FL:10,DS:7,CH:4,BE:13,AN:3},
{NS:43,OT:7,UN:7,SY:2,ST:2,PS:2,FL:10,DS:7,CH:3,BE:12,AN:3},
{NS:41,OT:6,UN:7,ST:2,PS:2,GC:3,FL:10,DS:8,CH:3,BE:14,AN:2},
{NS:48,OT:6,UN:6,ST:3,PS:2,FL:10,DS:8,CH:3,BE:12,AN:1},
{NS:49,OT:6,UN:6,ST:3,PS:2,MI:2,FL:8,DB:2,DS:6,CH:3,BE:9,AN:2},
{NS:50,OT:7,UN:7,ST:3,PS:4,MI:2,FL:8,DB:3,DS:4,CH:3,BE:7,AN:2},
{NS:50,OT:7,UN:9,ST:3,PS:3,MI:2,FL:8,DB:3,DS:5,CH:3,BE:6,AN:1},
{NS:50,OT:7,UN:9,ST:2,PS:4,MI:2,FL:8,DB:2,DS:5,CH:3,BE:6,AN:2},
{NS:52,OT:8,UN:8,ST:2,PS:3,MI:2,FL:7,DB:3,DS:5,CH:3,BE:5,AN:2},
{NS:49,OT:7,UN:9,ST:3,PS:3,MI:2,FL:7,DB:3,DS:6,CH:3,BE:6,AN:2},
{NS:49,OT:8,UN:8,ST:3,PS:3,MI:2,FL:8,DB:2,DS:6,CH:3,BE:6,AN:2},
{NS:50,OT:8,UN:6,SY:2,ST:3,PS:3,FL:8,DB:3,DS:6,CH:3,BE:6,AN:2},
{NS:48,OT:7,UN:5,ST:3,PS:3,MI:2,FL:8,DB:3,DS:7,CH:3,BE:9,AN:2},
{NS:49,OT:7,UN:5,SY:2,ST:3,PS:3,FL:8,DB:3,DS:7,CH:3,BE:8,AN:2},
{NS:52,OT:6,UN:4,SY:2,ST:2,PS:3,FL:7,DB:3,DS:7,CH:3,BE:9,AN:2},
{NS:53,OT:6,UN:4,SY:2,ST:2,PS:3,MI:2,FL:6,DS:8,CH:3,BE:9,AN:2},
{NS:59,OT:3,UN:4,FL:4,DS:10,CN:12,CH:3,BE:5},
{NS:55,OT:2,UN:3,IG:2,FL:3,DS:7,CY:3,CN:13,CH:3,BE:9},
{NS:55,UN:2,ST:3,RB:2,FL:8,DS:6,CY:3,CN:6,CH:2,BE:13},
{NS:50,OT:6,UN:8,ST:4,PS:2,MI:2,FL:9,DS:6,CH:3,BE:6,AN:2},
{NS:50,OT:6,UN:9,ST:5,PS:2,FL:8,DS:6,CH:4,BE:5,AN:3},
{NS:49,OT:7,UN:9,ST:4,PS:3,MI:2,FL:10,DS:5,CH:3,BE:4,AN:3},
{NS:48,OT:8,UN:8,ST:5,PS:3,FL:15,DS:4,CH:2,BE:4,AN:2},
{NS:49,OT:8,UN:6,SY:2,ST:4,PS:2,FL:11,DS:6,CH:3,BE:5,AN:2},
{NS:52,OT:7,UN:7,ST:5,PS:3,FL:8,DS:6,CH:3,BE:5,AN:2},
{NS:58,OT:8,UN:8,ST:3,PS:3,FL:6,DS:5,CH:2,BE:4,AN:2},
null,
{NS:57,OT:8,UN:10,SB:4,PS:3,MI:2,FL:10,DS:2,BE:4},
{NS:69,OT:10,UN:12,FL:9}
];

// ---------------- layout constants (pixels) ----------------
const W = 1357, H = 1186;
const FONT = '"Liberation Sans", Arial, Helvetica, sans-serif';
const PANEL_LEFT = {A: 88, B: 750};
const FACET_STEP = 144, FACET_W = 136;
const PLOT_TOP = 86, PLOT_BOTTOM = 636, STRIP_H = 26;
const NROWS = 48;
const ROW_IDS = [];
for (let g = 0; g < 2; g++) for (let s = 1; s <= 24; s++) ROW_IDS.push(GROUPS[g].charAt(0) + s);

const FACETS = [
  {panel:"A", month:MONTHS[0], rows:A_SEP}, {panel:"A", month:MONTHS[1], rows:A_DEC},
  {panel:"A", month:MONTHS[2], rows:A_APR}, {panel:"A", month:MONTHS[3], rows:A_JUN},
  {panel:"B", month:MONTHS[0], rows:B_SEP}, {panel:"B", month:MONTHS[1], rows:B_DEC},
  {panel:"B", month:MONTHS[2], rows:B_APR}, {panel:"B", month:MONTHS[3], rows:B_JUN}
];

const px = v => v / W;
const py = v => 1 - v / H;

const traces = [];
const shapes = [];
const annotations = [];
const layout = {
  width: W, height: H, margin: {l:0, r:0, t:0, b:0},
  paper_bgcolor: '#ffffff', plot_bgcolor: '#ffffff',
  barmode: 'stack', hovermode: false, showlegend: true,
  font: {family: FONT, size: 18, color: '#1a1a1a'}
};
function note(xp, yp, text, size, extra) {
  return Object.assign({xref:'paper', yref:'paper', x:px(xp), y:py(yp), text:text, showarrow:false,
    xanchor:'center', yanchor:'middle', font:{family:FONT, size:size, color:'#1a1a1a'}}, extra || {});
}

// stacking order: left to right = reverse of legend order
const STACK = ORDER_CODES.map((c, i) => i).reverse();

FACETS.forEach((f, i) => {
  const n = i + 1, sfx = n === 1 ? '' : String(n);
  const k = i % 4;
  const x0 = PANEL_LEFT[f.panel] + FACET_STEP * k;
  const strong = (f.panel === 'B' && k === 3);
  layout['xaxis' + sfx] = {
    domain: [px(x0), px(x0 + FACET_W)], anchor: 'y' + sfx,
    range: [-5, 105], tickvals: TICK_VALUES, ticktext: TICK_LABELS,
    tickangle: -45, ticks: 'outside', ticklen: 4, tickwidth: 1, tickcolor: '#333333',
    tickfont: {family: FONT, size: 18, color: '#4d4d4d'},
    showgrid: false, zeroline: false, showline: true, mirror: true,
    linecolor: strong ? '#000000' : '#333333', linewidth: strong ? 2.5 : 1, fixedrange: true
  };
  layout['yaxis' + sfx] = {
    domain: [py(PLOT_BOTTOM), py(PLOT_TOP)], anchor: 'x' + sfx,
    type: 'category', categoryorder: 'array', categoryarray: ROW_IDS,
    range: [NROWS - 0.4, -0.6], showticklabels: false, ticks: '',
    showgrid: false, zeroline: false, showline: true, mirror: true,
    linecolor: strong ? '#000000' : '#333333', linewidth: strong ? 2.5 : 1, fixedrange: true
  };
  STACK.forEach(ci => {
    const code = ORDER_CODES[ci];
    const xs = f.rows.map(r => {
      if (!r) return null;
      const tot = Object.values(r).reduce((a, b) => a + b, 0);
      return (r[code] || 0) * 100 / tot;
    });
    if (!xs.some(v => v)) return;
    traces.push({
      type: 'bar', orientation: 'h', x: xs, y: ROW_IDS,
      xaxis: 'x' + sfx, yaxis: 'y' + sfx, width: 0.82,
      marker: {color: ORDER_COLORS[ci], line: {width: 0}},
      name: ORDER_NAMES[ci], legendgroup: code, showlegend: false, hoverinfo: 'skip'
    });
  });
  // strip
  shapes.push({type:'rect', xref:'x' + sfx + ' domain', yref:'y' + sfx + ' domain',
    x0:0, x1:1, y0:1, y1:1 + STRIP_H / (PLOT_BOTTOM - PLOT_TOP),
    fillcolor:'#ffffff', line:{color:'#333333', width:1}});
  annotations.push({xref:'x' + sfx + ' domain', yref:'y' + sfx + ' domain', x:0.5,
    y:1 + (STRIP_H / 2) / (PLOT_BOTTOM - PLOT_TOP), text:f.month, showarrow:false,
    xanchor:'center', yanchor:'middle', font:{family:FONT, size:20, color:'#1a1a1a'}});
});

// legend-only traces (bigger swatches), one per category; one null point keeps them visible
ORDER_CODES.forEach((code, i) => {
  const col = LEGEND_COLUMN[i];
  traces.push({
    type:'bar', orientation:'h', x:[null], y:[ROW_IDS[0]], xaxis:'x', yaxis:'y',
    name: ORDER_ITALIC[i] ? '<i>' + ORDER_NAMES[i] + '</i>' : ORDER_NAMES[i],
    legend: col === 1 ? 'legend' : 'legend' + col, legendgroup: code, legendrank: i + 1,
    marker:{color: ORDER_COLORS[i], line:{color: ORDER_COLORS[i], width: 5}},
    showlegend: true, hoverinfo:'skip'
  });
});
const LEGEND_X = [58, 331, 587, 856, 1108];
const LEGEND_TOP = 732;
LEGEND_X.forEach((lx, j) => {
  layout[j === 0 ? 'legend' : 'legend' + (j + 1)] = {
    x: px(lx), xanchor:'left', y: py(LEGEND_TOP), yanchor:'top', orientation:'v',
    bgcolor:'rgba(0,0,0,0)', borderwidth:0, tracegroupgap:0,
    font:{family:FONT, size:19.5, color:'#1a1a1a'}
  };
});

// group (Control / Heated) boxes
[['y', 63], ['y5', 725]].forEach(([yr, gx]) => {
  shapes.push({type:'rect', xref:'paper', yref:yr, x0:px(gx), x1:px(gx + 25), y0:-0.6, y1:23.5,
    line:{color:'#1a1a1a', width:1}, fillcolor:'rgba(0,0,0,0)'});
  shapes.push({type:'rect', xref:'paper', yref:yr, x0:px(gx), x1:px(gx + 25), y0:23.5, y1:NROWS - 0.4,
    line:{color:'#1a1a1a', width:1}, fillcolor:'rgba(0,0,0,0)'});
  annotations.push(note(gx + 12.5, 212, GROUPS[0], 20, {textangle:-90}));
  annotations.push(note(gx + 12.5, 491, GROUPS[1], 20, {textangle:-90}));
});

// panel letters, axis titles, legend title
annotations.push(note(53, 40, '<b>A</b>', 21, {font:{family:FONT, size:21, color:'#000'}}));
annotations.push(note(689, 40, '<b>B</b>', 21, {font:{family:FONT, size:21, color:'#000'}}));
annotations.push(note(381, 692, 'Relative abundance (%)', 20.5));
annotations.push(note(1045, 690, 'Relative abundance (%)', 20.5));
annotations.push(note(61, 722, 'Order', 20, {xanchor:'left'}));

// figure frame
shapes.push({type:'rect', xref:'paper', yref:'paper', x0:px(7), x1:px(1356), y0:py(1013), y1:py(7),
  line:{color:'#6e6e6e', width:1}, fillcolor:'rgba(0,0,0,0)'});
shapes.push({type:'line', xref:'paper', yref:'paper', x0:px(7), x1:px(7), y0:py(1013), y1:py(1186),
  line:{color:'#6e6e6e', width:1}});

// caption
const CAPTION_LINES = [
  '<b>FIGURE 4 |</b> Differentially abundant ASVs summarized means on the order level for bottom water and sediment. Stacked bars of significant differentially abundant',
  'ASVs between the heated and control bays (both <i>n</i> = 191) for the different sampling months for <b>(A)</b> bottom water and <b>(B)</b> sediment. The x-axes show the relative',
  'abundance summed to 100%, while the y-axis shows the bays with rows representing sampling sites (<i>n</i> = 8) and replicates (<i>n</i> = 3). Shown are significant differentially',
  'abundant ASVs with summarized mean on the order level above 1% relative abundance (significant ASVs below 1% relative abundance are grouped as “&lt;1% others”',
  'and insignificant differentially abundant ASVs between bays as “not significant.” Samples with low read numbers have been excluded (see Materials and Methods).',
  'The stacked bars are read from right to left.'
];
CAPTION_LINES.forEach((t, j) => {
  annotations.push(note(22, 1042 + 25 * j, t, 18, {xanchor:'left', align:'left',
    font:{family:FONT, size:18, color:'#333333'}}));
});

layout.shapes = shapes;
layout.annotations = annotations;

Plotly.newPlot('chart', traces, layout, {staticPlot: true, displayModeBar: false});
</script>
</body></html>
